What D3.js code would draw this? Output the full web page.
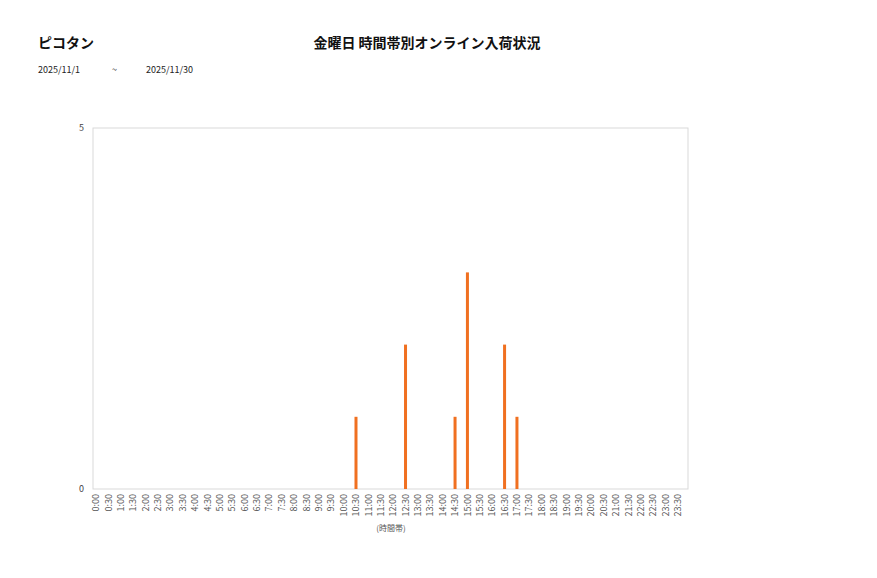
<!DOCTYPE html>
<html>
<head>
<meta charset="utf-8">
<script src="https://cdn.jsdelivr.net/npm/d3@7"></script>
<style>
body { margin: 0; background: #fff; }
text { font-family: "Noto Sans CJK JP", "Noto Sans", sans-serif; }
</style>
</head>
<body>
<script>
// time slots (30 min) and the count for each
var slots = [];
for (var hh = 0; hh < 24; hh++) {
	slots.push(hh + ":00");
	slots.push(hh + ":30");
}
var slotValues = {"10:30": 1, "12:30": 2, "14:30": 1, "15:00": 3, "16:30": 2, "17:00": 1};
var counts = slots.map(function(s){ return slotValues[s] || 0; });
var yTicks = [0, 5];

var shopName = "ピコタン";
var chartTitle = "金曜日 時間帯別オンライン入荷状況";
var dateFrom = "2025/11/1", dateTo = "2025/11/30";

window.onload = function(){
	var w = 877, h = 578;
	var svg = d3.select("body").append("svg")
		.attr("width", w)
		.attr("height", h);

	// header texts
	svg.append("text").attr("x", 38).attr("y", 48)
		.style("font-size", "14px").style("font-weight", "bold").style("fill", "#111")
		.text(shopName);
	svg.append("text").attr("x", 427).attr("y", 48).attr("text-anchor", "middle")
		.style("font-size", "14px").style("font-weight", "bold").style("fill", "#111")
		.text(chartTitle);
	svg.append("text").attr("x", 38).attr("y", 73).style("font-size", "9px").style("fill", "#222").text(dateFrom);
	svg.append("text").attr("x", 112).attr("y", 73).style("font-size", "9px").style("fill", "#222").text("~");
	svg.append("text").attr("x", 146).attr("y", 73).style("font-size", "9px").style("fill", "#222").text(dateTo);

	// plot frame
	var left = 93, right = 688, top = 128, bottom = 489;
	svg.append("rect")
		.attr("x", left).attr("y", top)
		.attr("width", right - left).attr("height", bottom - top)
		.style("fill", "none").style("stroke", "#d9d9d9").style("stroke-width", 1);

	var x = d3.scaleBand()
		.domain(slots)
		.range([89.8, 684.1]);

	var y = d3.scaleLinear()
		.domain([0, 5])
		.range([bottom, top]);

	// y labels
	svg.selectAll(".ylab")
		.data(yTicks)
		.enter().append("text")
		.attr("class", "ylab")
		.attr("x", 84)
		.attr("y", function(d){ return y(d) + 3; })
		.attr("text-anchor", "end")
		.style("font-size", "9px").style("fill", "#444")
		.text(function(d){ return d; });

	// bars
	var bw = 3;
	svg.selectAll(".bar")
		.data(counts)
		.enter().append("rect")
		.attr("class", "bar")
		.attr("x", function(d, i){ return x(slots[i]) + x.bandwidth() / 2 - bw / 2; })
		.attr("y", function(d){ return y(d); })
		.attr("width", bw)
		.attr("height", function(d){ return bottom - y(d); })
		.style("fill", "#f07020");

	// x axis labels (rotated)
	var xAxis = d3.axisBottom(x).tickSize(0).tickPadding(0);
	var gx = svg.append("g")
		.attr("transform", "translate(0," + bottom + ")")
		.call(xAxis);
	gx.select(".domain").remove();
	gx.selectAll("text")
		.attr("transform", "rotate(-90)")
		.attr("x", -5)
		.attr("y", 0)
		.attr("dy", "0.35em")
		.attr("text-anchor", "end")
		.style("font-size", "9px")
		.style("fill", "#555")
		.style("font-family", "\"Noto Sans CJK JP\", sans-serif");

	svg.append("text").attr("x", 391).attr("y", 531).attr("text-anchor", "middle")
		.style("font-size", "8px").style("fill", "#555")
		.text("(時間帯)");
};
</script>
</body>
</html>
